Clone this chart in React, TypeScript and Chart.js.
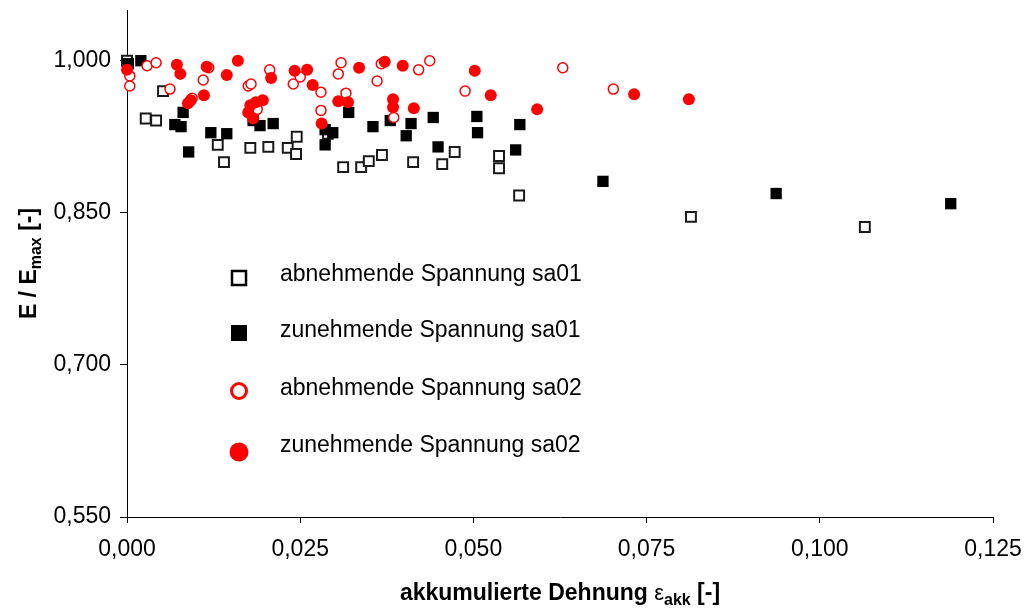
import React, { useEffect, useRef } from 'react';
import { Chart, registerables } from 'chart.js';

Chart.register(...registerables);

// ---- data ----
const xTicks = [0, 0.025, 0.05, 0.075, 0.1, 0.125];
const yTicks = [0.55, 0.7, 0.85, 1.0];

const legendLabels = [
  'abnehmende Spannung sa01',
  'zunehmende Spannung sa01',
  'abnehmende Spannung sa02',
  'zunehmende Spannung sa02',
];

const abnSa01X = [0.000, 0.0052, 0.0027, 0.0042, 0.0131, 0.0140, 0.0178, 0.0204, 0.0232, 0.0245, 0.0244, 0.0290, 0.0312, 0.0338, 0.0349, 0.0368, 0.0413, 0.0455, 0.0473, 0.0537, 0.0537, 0.0566, 0.0814, 0.1065];
const abnSa01Y = [1.000, 0.970, 0.943, 0.941, 0.917, 0.900, 0.914, 0.915, 0.914, 0.925, 0.908, 0.928, 0.895, 0.895, 0.901, 0.907, 0.900, 0.898, 0.910, 0.906, 0.894, 0.867, 0.846, 0.836];

const zunSa01X = [0.0002, 0.0020, 0.0081, 0.0069, 0.0078, 0.0089, 0.0121, 0.0144, 0.0182, 0.0192, 0.0211, 0.0286, 0.0297, 0.0286, 0.0320, 0.0355, 0.0380, 0.0410, 0.0403, 0.0442, 0.0449, 0.0505, 0.0506, 0.0567, 0.0561, 0.0687, 0.0937, 0.1189];
const zunSa01Y = [0.997, 1.000, 0.949, 0.937, 0.935, 0.910, 0.929, 0.928, 0.941, 0.936, 0.938, 0.932, 0.929, 0.917, 0.949, 0.935, 0.941, 0.938, 0.926, 0.944, 0.915, 0.945, 0.929, 0.937, 0.912, 0.881, 0.869, 0.859];

const abnSa02X = [0.0004, 0.0004, 0.0029, 0.0042, 0.0062, 0.0094, 0.0110, 0.0118, 0.0175, 0.0179, 0.0188, 0.0206, 0.0240, 0.0250, 0.0280, 0.0280, 0.0305, 0.0309, 0.0316, 0.0361, 0.0367, 0.0385, 0.0421, 0.0437, 0.0488, 0.0629, 0.0702];
const abnSa02Y = [0.985, 0.975, 0.995, 0.998, 0.972, 0.963, 0.981, 0.993, 0.975, 0.977, 0.952, 0.991, 0.977, 0.984, 0.969, 0.951, 0.987, 0.998, 0.968, 0.980, 0.997, 0.944, 0.991, 1.000, 0.970, 0.993, 0.972];

const zunSa02X = [0.0000, 0.0072, 0.0077, 0.0115, 0.0144, 0.0160, 0.0208, 0.0242, 0.0260, 0.0268, 0.0111, 0.0092, 0.0088, 0.0178, 0.0186, 0.0196, 0.0175, 0.0182, 0.0281, 0.0305, 0.0319, 0.0335, 0.0372, 0.0398, 0.0384, 0.0384, 0.0414, 0.0502, 0.0525, 0.0592, 0.0732, 0.0811];
const zunSa02Y = [0.991, 0.996, 0.987, 0.994, 0.986, 1.000, 0.983, 0.990, 0.991, 0.976, 0.966, 0.961, 0.958, 0.956, 0.959, 0.961, 0.949, 0.943, 0.938, 0.960, 0.959, 0.993, 0.999, 0.995, 0.962, 0.954, 0.953, 0.990, 0.966, 0.952, 0.967, 0.962];

const toPoints = (xs: number[], ys: number[]) => xs.map((x, i) => ({ x, y: ys[i] }));

const FONT = '"Liberation Sans", Arial, Helvetica, sans-serif';
const fmt = (v: number) => Number(v).toFixed(3).replace('.', ',');

type Part = { text: string; font: string; dy?: number };

function drawRich(ctx: CanvasRenderingContext2D, parts: Part[], cx: number, baseline: number) {
  let total = 0;
  parts.forEach((p) => {
    ctx.font = p.font;
    total += ctx.measureText(p.text).width;
  });
  let x = cx - total / 2;
  ctx.textAlign = 'left';
  ctx.textBaseline = 'alphabetic';
  parts.forEach((p) => {
    ctx.font = p.font;
    ctx.fillText(p.text, x, baseline + (p.dy || 0));
    x += ctx.measureText(p.text).width;
  });
}

const decorPlugin = {
  id: 'decor',
  afterDraw(chart: any) {
    const ctx: CanvasRenderingContext2D = chart.ctx;
    const area = chart.chartArea;
    ctx.save();
    ctx.fillStyle = '#000';

    // x title
    const bold = `bold 23px ${FONT}`;
    const boldSub = `bold 16px ${FONT}`;
    drawRich(
      ctx,
      [
        { text: 'akkumulierte Dehnung ', font: bold },
        { text: 'ε', font: `22px ${FONT}` },
        { text: 'akk', font: boldSub, dy: 5 },
        { text: ' [-]', font: bold },
      ],
      (area.left + area.right) / 2,
      600
    );

    // y title
    ctx.save();
    ctx.translate(28, (area.top + area.bottom) / 2);
    ctx.rotate(-Math.PI / 2);
    drawRich(
      ctx,
      [
        { text: 'E / E', font: bold },
        { text: 'max', font: boldSub, dy: 5 },
        { text: ' [-]', font: bold },
      ],
      0,
      8
    );
    ctx.restore();

    // legend
    const mx = 239;
    const rowsMarker = [278, 333, 391, 452];
    const rowsText = [275, 331, 389, 446];
    ctx.strokeStyle = '#000';
    ctx.lineWidth = 2.5;
    ctx.strokeRect(mx - 7, rowsMarker[0] - 7, 14, 14);
    ctx.fillStyle = '#000';
    ctx.fillRect(mx - 8, rowsMarker[1] - 8, 16, 16);
    ctx.strokeStyle = '#ff0000';
    ctx.lineWidth = 3;
    ctx.beginPath();
    ctx.arc(mx, rowsMarker[2], 7.5, 0, Math.PI * 2);
    ctx.stroke();
    ctx.fillStyle = '#ff0000';
    ctx.beginPath();
    ctx.arc(mx, rowsMarker[3], 9.5, 0, Math.PI * 2);
    ctx.fill();

    ctx.fillStyle = '#000';
    ctx.font = `23px ${FONT}`;
    ctx.textAlign = 'left';
    ctx.textBaseline = 'middle';
    legendLabels.forEach((t, i) => ctx.fillText(t, 280, rowsText[i]));
    ctx.restore();
  },
};

export default function App() {
  const ref = useRef<HTMLCanvasElement | null>(null);

  useEffect(() => {
    if (!ref.current) return;
    const chart = new Chart(ref.current, {
      type: 'scatter',
      data: {
        datasets: [
          {
            label: legendLabels[0],
            data: toPoints(abnSa01X, abnSa01Y),
            pointStyle: 'rect',
            pointRadius: 7,
            pointBorderWidth: 2,
            pointBackgroundColor: '#ffffff',
            pointBorderColor: '#1a1a1a',
            order: 3,
            clip: false as any,
          },
          {
            label: legendLabels[1],
            data: toPoints(zunSa01X, zunSa01Y),
            pointStyle: 'rect',
            pointRadius: 8,
            pointBorderWidth: 0,
            pointBackgroundColor: '#000000',
            pointBorderColor: '#000000',
            order: 2,
            clip: false as any,
          },
          {
            label: legendLabels[2],
            data: toPoints(abnSa02X, abnSa02Y),
            pointStyle: 'circle',
            pointRadius: 5,
            pointBorderWidth: 1.5,
            pointBackgroundColor: '#ffffff',
            pointBorderColor: '#ff0000',
            order: 1,
            clip: false as any,
          },
          {
            label: legendLabels[3],
            data: toPoints(zunSa02X, zunSa02Y),
            pointStyle: 'circle',
            pointRadius: 6,
            pointBorderWidth: 0,
            pointBackgroundColor: '#ff0000',
            pointBorderColor: '#ff0000',
            order: 0,
            clip: false as any,
          },
        ],
      },
      options: {
        animation: false,
        responsive: false,
        layout: { padding: { left: 0, top: 10, right: 34, bottom: 0 } },
        plugins: {
          legend: { display: false },
          tooltip: { enabled: false },
          title: { display: false },
        },
        scales: {
          x: {
            type: 'linear',
            min: 0,
            max: 0.125,
            afterBuildTicks: (scale: any) => {
              scale.ticks = xTicks.map((v) => ({ value: v }));
            },
            afterFit: (scale: any) => {
              scale.height = 93;
              scale.paddingLeft = 0;
              scale.paddingRight = 0;
            },
            ticks: {
              callback: (v: any) => fmt(v),
              color: '#000',
              font: { family: FONT, size: 23 },
              padding: 13,
              maxRotation: 0,
              autoSkip: false,
            },
            grid: {
              display: true,
              drawOnChartArea: false,
              drawTicks: true,
              tickLength: 6,
              color: '#000',
              lineWidth: 1,
            },
            border: { display: true, color: '#000', width: 1 },
          },
          y: {
            type: 'linear',
            min: 0.55,
            max: 1.05,
            afterBuildTicks: (scale: any) => {
              scale.ticks = yTicks.map((v) => ({ value: v }));
            },
            afterFit: (scale: any) => {
              scale.width = 127;
              scale.paddingTop = 0;
              scale.paddingBottom = 0;
            },
            ticks: {
              callback: (v: any) => fmt(v),
              color: '#000',
              font: { family: FONT, size: 23 },
              padding: 9,
              autoSkip: false,
            },
            grid: {
              display: true,
              drawOnChartArea: false,
              drawTicks: true,
              tickLength: 7,
              color: '#000',
              lineWidth: 1,
            },
            border: { display: true, color: '#000', width: 1 },
          },
        },
      },
      plugins: [decorPlugin],
    });
    return () => chart.destroy();
  }, []);

  return (
    <div style={{ position: 'absolute', left: 0, top: 0, width: 1027, height: 610, background: '#fff' }}>
      <canvas ref={ref} width={1027} height={610} style={{ display: 'block' }} />
    </div>
  );
}
